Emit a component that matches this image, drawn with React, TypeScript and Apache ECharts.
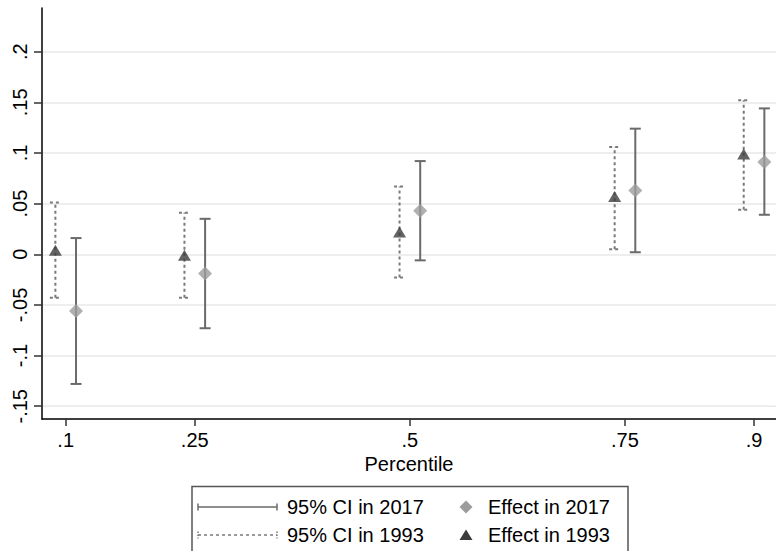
import React, { useEffect, useRef } from "react";
import * as echarts from "echarts";

const percentiles = [0.1, 0.25, 0.5, 0.75, 0.9];
const xTickLabels = [".1", ".25", ".5", ".75", ".9"];
const yTicks = [-0.15, -0.1, -0.05, 0, 0.05, 0.1, 0.15, 0.2];

const effect2017 = [-0.056, -0.019, 0.043, 0.063, 0.091];
const ciLow2017 = [-0.128, -0.073, -0.006, 0.002, 0.039];
const ciHigh2017 = [0.016, 0.035, 0.092, 0.124, 0.144];

const effect1993 = [0.004, -0.001, 0.022, 0.057, 0.099];
const ciLow1993 = [-0.043, -0.043, -0.023, 0.005, 0.044];
const ciHigh1993 = [0.051, 0.041, 0.067, 0.106, 0.152];

const OFFSET = 0.012;
const FONT = "'Liberation Sans', Arial, sans-serif";

const fmt = (v: number) => {
  const s = String(+Number(v).toFixed(3));
  return s.replace("0.", ".");
};

function ciRenderer(color: string, dashed: boolean) {
  return (params: any, api: any) => {
    const x = api.value(0);
    const lo = api.coord([x, api.value(1)]);
    const hi = api.coord([x, api.value(2)]);
    const style = {
      stroke: color,
      lineWidth: 2,
      lineDash: dashed ? [3, 3] : null,
    };
    const hw = 5.5;
    return {
      type: "group",
      children: [
        { type: "line", shape: { x1: lo[0], y1: lo[1], x2: hi[0], y2: hi[1] }, style },
        { type: "line", shape: { x1: lo[0] - hw, y1: lo[1], x2: lo[0] + hw, y2: lo[1] }, style },
        { type: "line", shape: { x1: hi[0] - hw, y1: hi[1], x2: hi[0] + hw, y2: hi[1] }, style },
      ],
    };
  };
}

export default function App() {
  const ref = useRef<HTMLDivElement>(null);
  useEffect(() => {
    if (!ref.current) return;
    const chart = echarts.init(ref.current, undefined, { renderer: "svg" });
    const ci2017 = percentiles.map((p, i) => [p + OFFSET, ciLow2017[i], ciHigh2017[i]]);
    const ci1993 = percentiles.map((p, i) => [p - OFFSET, ciLow1993[i], ciHigh1993[i]]);
    const pts2017 = percentiles.map((p, i) => [p + OFFSET, effect2017[i]]);
    const pts1993 = percentiles.map((p, i) => [p - OFFSET, effect1993[i]]);

    const c2017line = "#6a6a6a";
    const c1993line = "#7a7a7a";
    const cDiamond = "#9c9c9c";
    const cTri = "#3c3c3c";

    const lx = 198, rx = 277;
    const r1 = 507, r2 = 535;

    chart.setOption({
      animation: false,
      backgroundColor: "#ffffff",
      textStyle: { fontFamily: FONT },
      grid: { left: 42, top: 8, right: 24, bottom: 132, containLabel: false },
      xAxis: {
        type: "value",
        min: 0.07245,
        max: 0.93715,
        axisLine: { show: true, onZero: false, lineStyle: { color: "#000", width: 1.5 } },
        axisTick: { show: true, length: 7, customValues: percentiles, lineStyle: { color: "#333", width: 1.5 } },
        axisLabel: {
          customValues: percentiles,
          fontSize: 20,
          color: "#000",
          fontFamily: FONT,
          margin: 11,
          formatter: (v: number) => {
            const i = percentiles.findIndex((p) => Math.abs(p - v) < 1e-6);
            return i >= 0 ? xTickLabels[i] : "";
          },
        },
        splitLine: { show: false },
      },
      yAxis: {
        type: "value",
        min: -0.1626,
        max: 0.2431,
        axisLine: { show: true, onZero: false, lineStyle: { color: "#000", width: 1.5 } },
        axisTick: { show: true, length: 8, customValues: yTicks, lineStyle: { color: "#333", width: 1.5 } },
        axisLabel: {
          customValues: yTicks,
          rotate: 90,
          fontSize: 20,
          color: "#000",
          fontFamily: FONT,
          margin: 12,
          formatter: (v: number) => fmt(v),
        },
        splitLine: { show: true, lineStyle: { color: "#e8e8e8", width: 1.5 } },
      },
      series: [
        {
          type: "custom",
          name: "95% CI in 1993",
          data: ci1993,
          renderItem: ciRenderer(c1993line, true),
          z: 2,
        },
        {
          type: "custom",
          name: "95% CI in 2017",
          data: ci2017,
          renderItem: ciRenderer(c2017line, false),
          z: 2,
        },
        {
          type: "scatter",
          name: "Effect in 2017",
          data: pts2017,
          symbol: "diamond",
          symbolSize: [14, 14],
          itemStyle: { color: cDiamond },
          z: 3,
        },
        {
          type: "scatter",
          name: "Effect in 1993",
          data: pts1993,
          symbol: "triangle",
          symbolSize: [13, 11],
          itemStyle: { color: cTri },
          z: 3,
        },
      ],
      graphic: [
        {
          type: "rect",
          z: 100,
          shape: { x: 767, y: 380, width: 40, height: 37.5 },
          style: { fill: "#fff" },
        },
        {
          type: "line",
          z: 100,
          shape: { x1: 767, y1: 406.3, x2: 800, y2: 406.3 },
          style: { stroke: "#e8e8e8", lineWidth: 1.5 },
        },
        {
          type: "text",
          x: 409,
          y: 464,
          style: { text: "Percentile", fontSize: 20, fontFamily: FONT, fill: "#000", align: "center", verticalAlign: "middle" },
        },
        {
          type: "rect",
          shape: { x: 192, y: 486.5, width: 436, height: 80 },
          style: { fill: "#fff", stroke: "#555", lineWidth: 1.5 },
        },
        { type: "line", shape: { x1: lx, y1: r1, x2: rx, y2: r1 }, style: { stroke: c2017line, lineWidth: 1.5 } },
        { type: "line", shape: { x1: lx, y1: r1 - 3.5, x2: lx, y2: r1 + 3.5 }, style: { stroke: c2017line, lineWidth: 1.5 } },
        { type: "line", shape: { x1: rx, y1: r1 - 3.5, x2: rx, y2: r1 + 3.5 }, style: { stroke: c2017line, lineWidth: 1.5 } },
        { type: "line", shape: { x1: lx, y1: r2, x2: rx, y2: r2 }, style: { stroke: c1993line, lineWidth: 1.5, lineDash: [3, 3] } },
        { type: "line", shape: { x1: lx, y1: r2 - 3.5, x2: lx, y2: r2 + 3.5 }, style: { stroke: c1993line, lineWidth: 1.5, lineDash: [1.5, 1.5] } },
        { type: "line", shape: { x1: rx, y1: r2 - 3.5, x2: rx, y2: r2 + 3.5 }, style: { stroke: c1993line, lineWidth: 1.5, lineDash: [1.5, 1.5] } },
        {
          type: "text",
          x: 287,
          y: r1,
          style: { text: "95% CI in 2017", fontSize: 20, fontFamily: FONT, fill: "#000", verticalAlign: "middle" },
        },
        {
          type: "text",
          x: 287,
          y: r2,
          style: { text: "95% CI in 1993", fontSize: 20, fontFamily: FONT, fill: "#000", verticalAlign: "middle" },
        },
        {
          type: "polygon",
          shape: { points: [[466, r1 - 6.5], [472.5, r1], [466, r1 + 6.5], [459.5, r1]] },
          style: { fill: cDiamond },
        },
        {
          type: "polygon",
          shape: { points: [[466, r2 - 5.5], [472.5, r2 + 5], [459.5, r2 + 5]] },
          style: { fill: cTri },
        },
        {
          type: "text",
          x: 488,
          y: r1,
          style: { text: "Effect in 2017", fontSize: 20, fontFamily: FONT, fill: "#000", verticalAlign: "middle" },
        },
        {
          type: "text",
          x: 488,
          y: r2,
          style: { text: "Effect in 1993", fontSize: 20, fontFamily: FONT, fill: "#000", verticalAlign: "middle" },
        },
      ],
    });
    return () => chart.dispose();
  }, []);
  return (
    <div style={{ position: "fixed", left: 0, top: 0, width: 776, height: 551, overflow: "hidden", background: "#fff" }}>
      <div ref={ref} style={{ position: "absolute", left: 0, top: 0, width: 810, height: 551 }} />
    </div>
  );
}
